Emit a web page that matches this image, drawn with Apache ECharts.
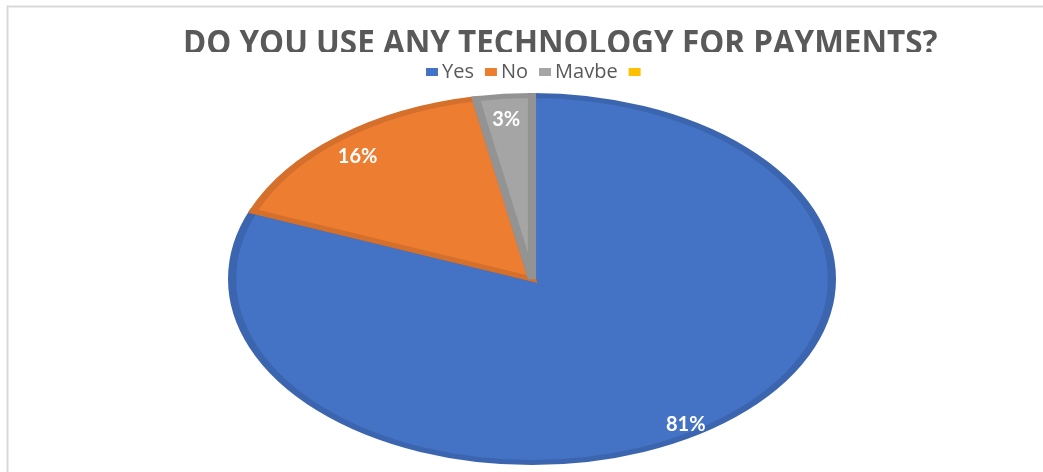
<!DOCTYPE html>
<html>
<head>
<meta charset="utf-8">
<script src="https://cdn.jsdelivr.net/npm/echarts@6/dist/echarts.min.js"></script>
<style>
  html, body { margin: 0; padding: 0; background: #fff; }
  #chart { width: 1043px; height: 472px; }
</style>
</head>
<body>
<div id="chart"></div>
<script>
// Survey answers
const categories = ['Yes', 'No', 'Maybe', ' '];
const values = [81, 16, 3, 0];
const labels = ['81%', '16%', '3%', ''];
const titleText = 'DO YOU USE ANY TECHNOLOGY FOR PAYMENTS?';

const fills = ['#4472C4', '#ED7D31', '#A5A5A5', '#FFC000'];
const edges = ['#3C65AF', '#D46F2C', '#939393', '#E3AB00'];

// Ellipse geometry of the pie (horizontally stretched circle)
const CX = 532, CY = 279, RX = 304, RY = 186, EDGE = 5;
const total = values.reduce((a, b) => a + b, 0);

function startOf(i) {
  let s = 0;
  for (let k = 0; k < i; k++) s += values[k];
  return s;
}

function makeSeries(i) {
  return {
    type: 'custom',
    name: categories[i],
    coordinateSystem: 'none',
    itemStyle: { color: fills[i] },
    data: [values[i]],
    renderItem: function (params, api) {
      const v = api.value(0);
      if (!v) return { type: 'group', children: [] };
      const a0 = -Math.PI / 2 + startOf(i) / total * Math.PI * 2;
      const a1 = a0 + v / total * Math.PI * 2;
      const mid = (a0 + a1) / 2;
      const k = RX / RY;
      const r = RY - EDGE / 2;
      const lr = 0.9 * RY;
      return {
        type: 'group',
        children: [
          {
            type: 'group',
            x: CX, y: CY, scaleX: k,
            children: [{
              type: 'sector',
              shape: { cx: 0, cy: 0, r0: 0, r: r, startAngle: a0, endAngle: a1, clockwise: true },
              style: { fill: fills[i], stroke: edges[i], lineWidth: EDGE, lineJoin: 'miter' }
            }]
          },
          {
            type: 'text',
            x: CX + Math.cos(mid) * lr * k,
            y: CY + Math.sin(mid) * lr + 7,
            z2: 10,
            style: {
              text: labels[i],
              fill: '#ffffff',
              font: 'bold 20px Lato, "Open Sans", sans-serif',
              align: 'center',
              verticalAlign: 'middle'
            }
          }
        ]
      };
    }
  };
}

const chart = echarts.init(document.getElementById('chart'), null, { renderer: 'canvas' });
chart.setOption({
  backgroundColor: '#ffffff',
  animation: false,
  legend: {
    data: categories,
    top: 57,
    left: 421,
    icon: 'rect',
    itemWidth: 12,
    itemHeight: 8,
    itemGap: 11,
    selectedMode: false,
    textStyle: {
      fontFamily: '"Open Sans", sans-serif',
      fontSize: 20,
      color: '#595959',
      padding: [0, 0, 0, -1]
    }
  },
  graphic: [
    {
      type: 'text', z: 50, x: 183, y: 44, scaleX: 0.925,
      style: {
        text: titleText,
        font: 'bold 34px "Open Sans", sans-serif',
        fill: '#595959',
        verticalAlign: 'middle'
      }
    },
    { type: 'rect', z: 100, shape: { x: 150, y: 52, width: 820, height: 8 }, style: { fill: '#ffffff' } },
    { type: 'rect', z: 100, shape: { x: 400, y: 78, width: 280, height: 13 }, style: { fill: '#ffffff' } },
    { type: 'rect', z: 100, shape: { x: 7.5, y: 6.5, width: 1100, height: 520 }, style: { fill: null, stroke: '#d9d9d9', lineWidth: 2 } }
  ],
  series: categories.map((c, i) => makeSeries(i))
});
</script>
</body>
</html>
